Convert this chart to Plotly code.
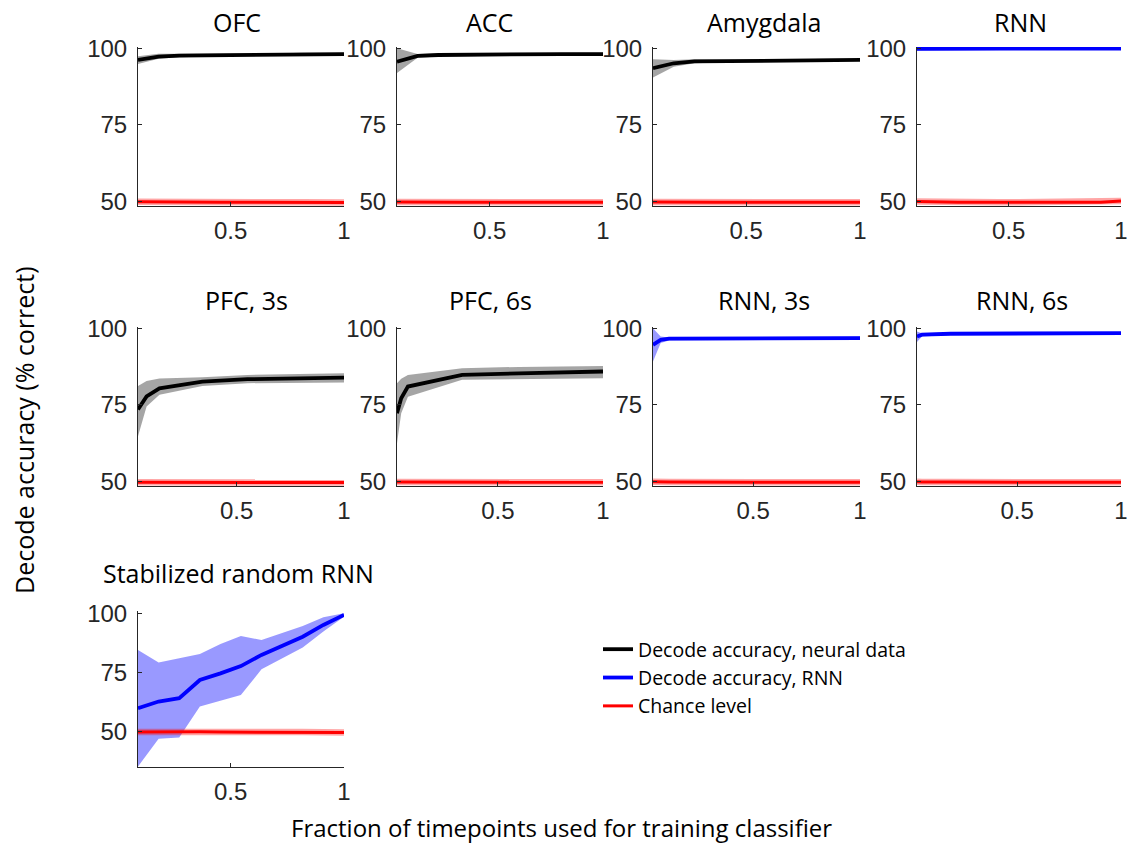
import plotly.graph_objects as go

# ---------------- data ----------------
ROW1_X = [0.091, 0.182, 0.273, 0.364, 0.455, 0.545, 0.636, 0.727, 0.818, 0.909, 1.0]

OFC_MEAN = [96.2, 97.3, 97.6, 97.7, 97.8, 97.9, 97.9, 98.0, 98.0, 98.1, 98.1]
OFC_LO = [94.9, 96.6, 97.1, 97.3, 97.4, 97.5, 97.5, 97.6, 97.6, 97.7, 97.7]
OFC_HI = [97.4, 98.2, 98.2, 98.2, 98.3, 98.3, 98.4, 98.4, 98.5, 98.5, 98.5]
OFC_CHANCE = [50.0, 49.9, 49.8, 49.8, 49.8, 49.8, 49.8, 49.8, 49.8, 49.8, 49.7]

ACC_MEAN = [95.6, 97.5, 97.8, 97.9, 97.9, 98.0, 98.0, 98.0, 98.1, 98.1, 98.1]
ACC_LO = [91.9, 96.9, 97.3, 97.4, 97.5, 97.6, 97.6, 97.6, 97.7, 97.7, 97.7]
ACC_HI = [100.0, 98.1, 98.3, 98.4, 98.4, 98.4, 98.4, 98.5, 98.5, 98.5, 98.5]
ACC_CHANCE = [49.9, 49.8, 49.8, 49.8, 49.8, 49.8, 49.8, 49.8, 49.8, 49.8, 49.8]

AMY_MEAN = [93.5, 95.1, 95.7, 95.8, 95.9, 96.0, 96.0, 96.1, 96.1, 96.2, 96.2]
AMY_LO = [90.5, 94.0, 95.1, 95.4, 95.5, 95.6, 95.6, 95.7, 95.7, 95.8, 95.8]
AMY_HI = [96.4, 96.2, 96.4, 96.3, 96.3, 96.4, 96.4, 96.5, 96.5, 96.6, 96.6]
AMY_CHANCE = [49.9, 49.8, 49.8, 49.8, 49.8, 49.8, 49.8, 49.8, 49.8, 49.8, 49.8]

RNN_MEAN = [99.8, 99.9, 99.9, 99.9, 99.9, 99.9, 99.9, 99.9, 99.9, 99.9, 99.9]
RNN_LO = [99.3, 99.5, 99.5, 99.5, 99.5, 99.5, 99.5, 99.5, 99.5, 99.5, 99.5]
RNN_HI = [100.3, 100.3, 100.3, 100.3, 100.3, 100.3, 100.3, 100.3, 100.3, 100.3, 100.3]
RNN_CHANCE = [50.1, 49.9, 49.8, 49.8, 49.8, 49.8, 49.8, 49.8, 49.8, 49.8, 50.2]

PFC3_X = [0.04, 0.08, 0.14, 0.34, 0.55, 1.0]
PFC3_MEAN = [73.5, 77.8, 80.4, 82.6, 83.4, 83.9]
PFC3_LO = [64.8, 74.5, 78.3, 81.2, 82.1, 82.3]
PFC3_HI = [81.2, 82.8, 83.6, 84.0, 84.8, 85.3]
PFC3_CHANCE = [49.8, 49.8, 49.8, 49.7, 49.7, 49.7]

PFC6_X = [0.02, 0.04, 0.072, 0.33, 0.6, 1.0]
PFC6_MEAN = [72.3, 77.2, 81.0, 84.8, 85.3, 85.9]
PFC6_LO = [62.5, 72.3, 77.7, 83.2, 83.5, 83.7]
PFC6_HI = [82.1, 83.5, 84.8, 87.0, 87.4, 87.7]
PFC6_CHANCE = [49.9, 49.9, 49.8, 49.8, 49.8, 49.8]

RNN3_X = [0.032, 0.068, 0.107, 0.5, 1.0]
RNN3_MEAN = [94.6, 96.2, 96.6, 96.7, 96.8]
RNN3_LO = [89.2, 95.2, 96.0, 96.2, 96.3]
RNN3_HI = [100.0, 97.3, 97.0, 97.1, 97.3]
RNN3_CHANCE = [50.0, 49.9, 49.9, 49.8, 49.8]

RNN6_X = [0.018, 0.042, 0.18, 0.5, 1.0]
RNN6_MEAN = [97.3, 97.9, 98.2, 98.3, 98.4]
RNN6_LO = [95.5, 97.3, 97.8, 97.9, 98.0]
RNN6_HI = [98.9, 98.4, 98.6, 98.7, 98.8]
RNN6_CHANCE = [50.0, 49.9, 49.9, 49.8, 49.8]

STAB_X = [0.091, 0.182, 0.273, 0.364, 0.455, 0.545, 0.636, 0.727, 0.818, 0.909, 1.0]
STAB_MEAN = [59.9, 62.7, 64.1, 71.8, 74.6, 77.7, 82.4, 86.2, 90.1, 95.1, 99.3]
STAB_LO = [35.2, 46.9, 47.5, 60.6, 63.1, 65.5, 76.3, 81.0, 85.6, 92.3, 98.6]
STAB_HI = [84.5, 79.2, 81.0, 82.8, 87.0, 90.4, 88.7, 91.8, 94.6, 98.3, 100.0]
STAB_CHANCE = [49.8, 49.9, 50.0, 49.9, 49.8, 49.8, 49.8, 49.8, 49.8, 49.7, 49.6]

TITLES = ["OFC", "ACC", "Amygdala", "RNN", "PFC, 3s", "PFC, 6s", "RNN, 3s", "RNN, 6s",
          "Stabilized random RNN"]
KINDS = ["neural", "neural", "neural", "rnn", "neural", "neural", "rnn", "rnn", "rnn"]
X_TICKS = [0.5, 1]
X_TICK_TEXT = ["0.5", "1"]
Y_TICKS = [50, 75, 100]
LEGEND_NAMES = ["Decode accuracy, neural data", "Decode accuracy, RNN", "Chance level"]
X_LABEL = "Fraction of timepoints used for training classifier"
Y_LABEL = "Decode accuracy (% correct)"

panels = [
    (ROW1_X, OFC_MEAN, OFC_LO, OFC_HI, OFC_CHANCE),
    (ROW1_X, ACC_MEAN, ACC_LO, ACC_HI, ACC_CHANCE),
    (ROW1_X, AMY_MEAN, AMY_LO, AMY_HI, AMY_CHANCE),
    (ROW1_X, RNN_MEAN, RNN_LO, RNN_HI, RNN_CHANCE),
    (PFC3_X, PFC3_MEAN, PFC3_LO, PFC3_HI, PFC3_CHANCE),
    (PFC6_X, PFC6_MEAN, PFC6_LO, PFC6_HI, PFC6_CHANCE),
    (RNN3_X, RNN3_MEAN, RNN3_LO, RNN3_HI, RNN3_CHANCE),
    (RNN6_X, RNN6_MEAN, RNN6_LO, RNN6_HI, RNN6_CHANCE),
    (STAB_X, STAB_MEAN, STAB_LO, STAB_HI, STAB_CHANCE),
]

# ---------------- layout geometry (pixels) ----------------
W, H = 1128, 847
COLS = [(138, 344), (397, 603), (653, 860), (917, 1121)]
ROWS = [(47, 206), (327, 486), (610.5, 767)]
Y_RANGES = [(48.6, 100.4), (48.6, 100.4), (35, 101.2)]
GRID = [(0, 0), (0, 1), (0, 2), (0, 3), (1, 0), (1, 1), (1, 2), (1, 3), (2, 0)]
TITLE_X = [237, 489, 764, 1020, 246, 490, 764, 1022, 239]
TITLE_Y = [22, 22, 22, 22, 300, 300, 300, 300, 573]

AXIS_COLOR = "#262626"
TICK_FONT = dict(family="Liberation Sans, Arial, sans-serif", size=24, color=AXIS_COLOR)
TEXT_FONT = "Open Sans, sans-serif"

STYLE = {
    "neural": dict(line="rgb(0,0,0)", band="rgba(110,110,110,0.62)"),
    "rnn": dict(line="rgb(0,0,255)", band="rgba(0,0,255,0.4)"),
}

fig = go.Figure()
legend_done = set()
layout = {}
annotations = []
for i, ((x, mean, lo, hi, chance), kind, (r, c)) in enumerate(zip(panels, KINDS, GRID)):
    n = i + 1
    xs = "x" if n == 1 else f"x{n}"
    ys = "y" if n == 1 else f"y{n}"
    st = STYLE[kind]
    # error band
    fig.add_trace(go.Scatter(
        x=list(x) + list(x)[::-1], y=list(hi) + list(lo)[::-1],
        fill="toself", fillcolor=st["band"], line=dict(width=0),
        mode="lines", showlegend=False, hoverinfo="skip", xaxis=xs, yaxis=ys))
    # chance level (light halo + line)
    fig.add_trace(go.Scatter(
        x=x, y=chance, mode="lines", line=dict(color="rgba(255,0,0,0.35)", width=6.5),
        showlegend=False, hoverinfo="skip", xaxis=xs, yaxis=ys))
    show_red = "chance" not in legend_done
    legend_done.add("chance")
    fig.add_trace(go.Scatter(
        x=x, y=chance, mode="lines", line=dict(color="rgb(255,0,0)", width=3),
        name=LEGEND_NAMES[2], legendgroup="c", legendrank=3, showlegend=show_red,
        xaxis=xs, yaxis=ys))
    # mean line
    show_mean = kind not in legend_done
    legend_done.add(kind)
    fig.add_trace(go.Scatter(
        x=x, y=mean, mode="lines", line=dict(color=st["line"], width=3.8),
        name=LEGEND_NAMES[0] if kind == "neural" else LEGEND_NAMES[1],
        legendgroup=kind, legendrank=1 if kind == "neural" else 2,
        showlegend=show_mean, xaxis=xs, yaxis=ys))

    x0, x1 = COLS[c]
    y0, y1 = ROWS[r]
    common = dict(showline=True, linecolor=AXIS_COLOR, linewidth=1, ticks="inside",
                  ticklen=4, tickcolor=AXIS_COLOR, tickwidth=1, showgrid=False,
                  zeroline=False, tickfont=TICK_FONT, mirror=False, fixedrange=True,
                  automargin=False)
    layout["xaxis" if n == 1 else f"xaxis{n}"] = dict(
        domain=[x0 / W, x1 / W], anchor=ys, range=[x[0], 1.0],
        tickmode="array", tickvals=X_TICKS, ticktext=X_TICK_TEXT, ticklabelstandoff=3, **common)
    layout["yaxis" if n == 1 else f"yaxis{n}"] = dict(
        domain=[1 - y1 / H, 1 - y0 / H], anchor=xs, range=list(Y_RANGES[r]),
        tickmode="array", tickvals=Y_TICKS, ticklabelstandoff=5, **common)
    annotations.append(dict(text=TITLES[i], x=TITLE_X[i] / W, y=1 - TITLE_Y[i] / H,
                            xref="paper", yref="paper", xanchor="center", yanchor="middle",
                            showarrow=False, font=dict(family=TEXT_FONT, size=25, color="black")))

annotations.append(dict(text=X_LABEL, x=561 / W, y=1 / H, xref="paper", yref="paper",
                        xanchor="center", yanchor="bottom", showarrow=False,
                        font=dict(family=TEXT_FONT, size=24, color="black")))
annotations.append(dict(text=Y_LABEL, x=24 / W, y=1 - 430 / H, xref="paper", yref="paper",
                        xanchor="center", yanchor="middle", textangle=-90, showarrow=False,
                        font=dict(family=TEXT_FONT, size=25, color="black")))

fig.update_layout(
    width=W, height=H, margin=dict(l=0, r=0, t=0, b=0, pad=0, autoexpand=False),
    paper_bgcolor="white", plot_bgcolor="white",
    annotations=annotations,
    legend=dict(x=598 / W, y=1 - 630 / H, xanchor="left", yanchor="top",
                font=dict(family=TEXT_FONT, size=19.5, color="black"),
                bgcolor="rgba(0,0,0,0)", tracegroupgap=0, itemwidth=30),
    **layout,
)
fig.write_html("out.html")
